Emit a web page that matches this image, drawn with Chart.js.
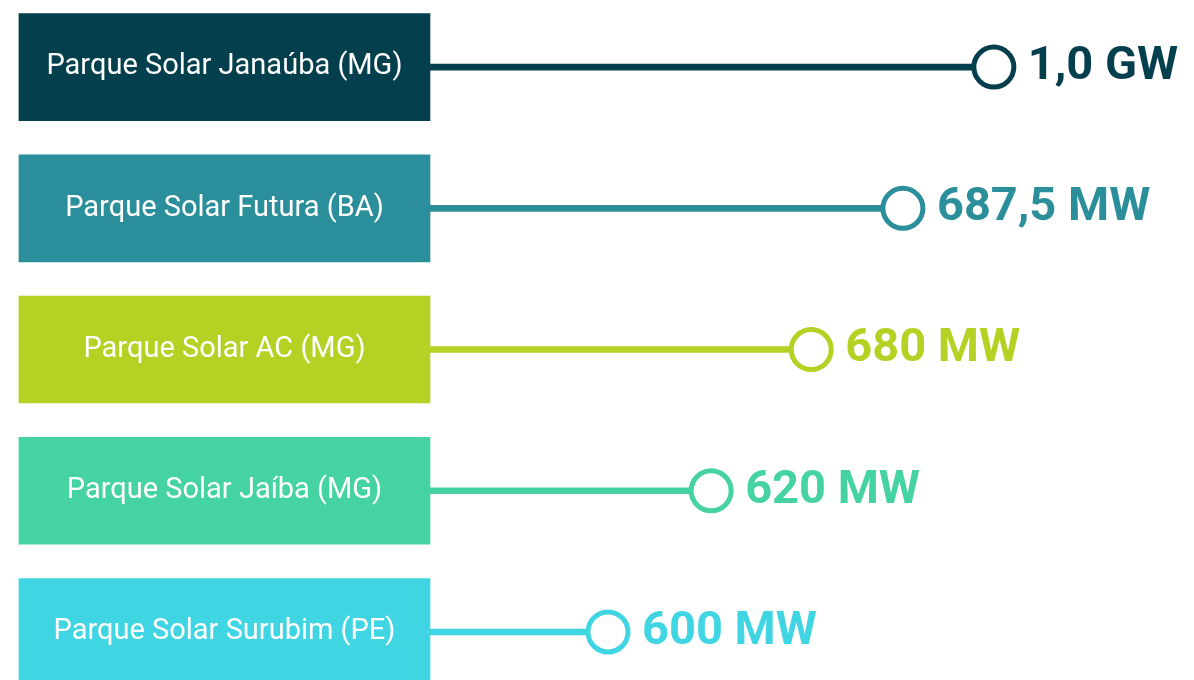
<!DOCTYPE html>
<html>
<head>
<meta charset="utf-8">
<script src="https://cdn.jsdelivr.net/npm/chart.js@4.4.1/dist/chart.umd.min.js"></script>
<style>
  html, body { margin: 0; padding: 0; background: #ffffff; }
  #wrap { width: 1194px; height: 680px; }
</style>
</head>
<body>
<div id="wrap"><canvas id="myChart"></canvas></div>
<script>
// data
const parks = ['Parque Solar Janaúba (MG)', 'Parque Solar Futura (BA)', 'Parque Solar AC (MG)', 'Parque Solar Jaíba (MG)', 'Parque Solar Surubim (PE)'];
const capacityLabels = ['1,0 GW', '687,5 MW', '680 MW', '620 MW', '600 MW'];
const capacityMW = [1000, 687.5, 680, 620, 600];
// length of each lollipop as drawn (percent of the plot width right of the boxes)
const stemLength = [73.8, 61.9, 49.9, 36.8, 23.3];
const colors = ['#033f4d', '#2b8f9b', '#b4d223', '#45d3a1', '#3fd5e2'];

const boxStart = -53.8;

//building the datasets
const rows = parks.map((p, i) => i);
const boxes = rows.map(i => ({ x: [boxStart, 0], y: i }));
const stems = rows.map(i => ({ x: [0, stemLength[i]], y: i }));
const heads = rows.map(i => ({ x: stemLength[i], y: i }));

//text in boxes and value labels
const textPlugin = {
  id: 'texts',
  afterDatasetsDraw(chart) {
    const ctx = chart.ctx;
    const xs = chart.scales.x, ys = chart.scales.y;
    ctx.save();
    ctx.textBaseline = 'middle';
    rows.forEach(i => {
      const y = ys.getPixelForValue(i);
      ctx.fillStyle = '#ffffff';
      ctx.textAlign = 'center';
      ctx.font = '29px Roboto';
      ctx.fillText(parks[i], (xs.getPixelForValue(boxStart) + xs.getPixelForValue(0)) / 2, y);
      ctx.fillStyle = colors[i];
      ctx.textAlign = 'left';
      ctx.font = 'bold 47px Roboto';
      ctx.fillText(capacityLabels[i], xs.getPixelForValue(stemLength[i]) + 34, y);
    });
    ctx.restore();
  }
};

const ctx = document.getElementById('myChart').getContext('2d');
const myChart = new Chart(ctx, {
  type: 'bar',
  data: {
    datasets: [
      {
        type: 'scatter',
        label: 'capacity',
        data: heads,
        order: 0,
        pointRadius: 20,
        pointHoverRadius: 20,
        borderWidth: 5,
        backgroundColor: '#ffffff',
        borderColor: colors
      },
      {
        label: 'stems',
        data: stems,
        order: 1,
        grouped: false,
        barThickness: 6,
        backgroundColor: colors,
        borderWidth: 0
      },
      {
        label: 'boxes',
        data: boxes,
        order: 2,
        grouped: false,
        barThickness: 107,
        backgroundColor: colors,
        borderWidth: 0
      }
    ]
  },
  options: {
    indexAxis: 'y',
    responsive: true,
    maintainAspectRatio: false,
    animation: false,
    layout: { padding: 0, autoPadding: false },
    plugins: { legend: { display: false }, tooltip: { enabled: false } },
    scales: {
      x: { type: 'linear', min: -56.28, max: 100, offset: false, display: false },
      y: { type: 'linear', reverse: true, min: -0.475, max: 4.34, offset: false, display: false }
    }
  },
  plugins: [textPlugin]
});
</script>
</body>
</html>
